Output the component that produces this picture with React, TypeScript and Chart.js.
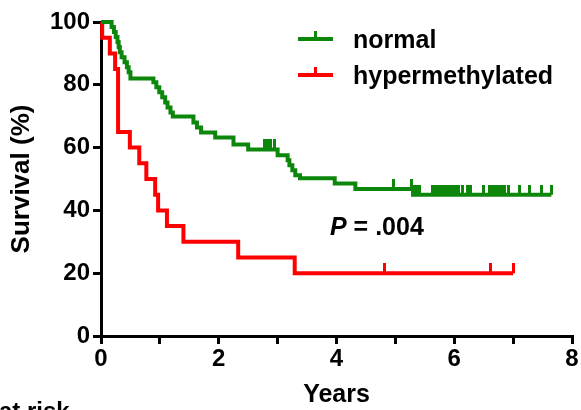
import React, { useEffect, useRef } from 'react';
import { Chart, registerables } from 'chart.js';
Chart.register(...registerables);

// ---- data ----
const xTickValues = [0, 1, 2, 3, 4, 5, 6, 7, 8];
const xTickLabels = ['0', '', '2', '', '4', '', '6', '', '8'];
const yTickValues = [0, 20, 40, 60, 80, 100];

const seriesLabels = ['normal', 'hypermethylated'];
const seriesColors = ['#0c870c', '#ff0000'];

const normalTimes = [0, 0.18, 0.22, 0.25, 0.28, 0.30, 0.32, 0.35, 0.40, 0.44, 0.47, 0.50, 0.89, 0.94, 0.99, 1.04, 1.09, 1.13, 1.18, 1.22, 1.57, 1.63, 1.70, 1.94, 2.25, 2.50, 3.00, 3.17, 3.20, 3.25, 3.30, 3.38, 3.97, 4.32, 5.30, 7.65];
const normalSurv = [100, 98.4, 96.8, 95.2, 93.6, 92.0, 90.4, 88.8, 87.2, 85.6, 84.0, 82.0, 80.8, 79.2, 77.6, 76.0, 74.4, 72.8, 71.2, 69.9, 68.0, 66.4, 64.8, 63.2, 61.0, 59.4, 57.6, 56.0, 54.4, 52.8, 51.2, 50.2, 48.6, 46.8, 45.0, 45.0];
const normalCensor = [2.78, 2.83, 2.88, 2.94, 4.97, 5.28, 5.33, 5.37, 5.41, 5.63, 5.67, 5.72, 5.77, 5.82, 5.87, 5.92, 5.97, 6.02, 6.08, 6.14, 6.22, 6.28, 6.49, 6.60, 6.65, 6.70, 6.75, 6.80, 6.86, 6.92, 7.11, 7.28, 7.48, 7.65];

const hyperTimes = [0, 0.02, 0.15, 0.24, 0.29, 0.49, 0.65, 0.77, 0.92, 0.97, 1.12, 1.40, 2.33, 3.29, 7.0];
const hyperSurv = [100, 95, 90, 85, 65, 60, 55, 50, 45, 40, 35, 30, 25, 20, 20];
const hyperCensor = [4.82, 6.62, 7.0];

const yTitle = 'Survival (%)';
const xTitle = 'Years';
const pLabel = 'P';
const pValue = ' = .004';
const atRisk = 'at risk';

const FONT = "'Liberation Sans', Arial, Helvetica, sans-serif";

function stepValue(times: number[], surv: number[], t: number) {
  let v = surv[0];
  for (let i = 0; i < times.length; i++) {
    if (times[i] <= t) v = surv[i];
  }
  return v;
}

function censorMark(color: string) {
  const c = document.createElement('canvas');
  c.width = 3;
  c.height = 20;
  const ctx = c.getContext('2d')!;
  ctx.fillStyle = color;
  ctx.fillRect(0, 0, 3, 10);
  return c;
}

const overlayPlugin = {
  id: 'overlay',
  afterDraw(chart: any) {
    const ctx = chart.ctx;
    ctx.save();
    // legend
    const lx0 = 298, lx1 = 333;
    const rows = [39, 75];
    rows.forEach((y, i) => {
      ctx.strokeStyle = seriesColors[i];
      ctx.fillStyle = seriesColors[i];
      ctx.lineWidth = 4;
      ctx.beginPath();
      ctx.moveTo(lx0, y);
      ctx.lineTo(lx1, y);
      ctx.stroke();
      ctx.fillRect(314, y - 8, 3, 8);
      ctx.fillStyle = '#000';
      ctx.font = `bold 25px ${FONT}`;
      ctx.textBaseline = 'alphabetic';
      ctx.textAlign = 'left';
      ctx.fillText(seriesLabels[i], 353, y + 9);
    });
    // P value
    ctx.fillStyle = '#000';
    ctx.font = `italic bold 25px ${FONT}`;
    ctx.fillText(pLabel, 330, 235);
    const w = ctx.measureText(pLabel).width;
    ctx.font = `bold 25px ${FONT}`;
    ctx.fillText(pValue, 330 + w, 235);
    // at risk (cut off at bottom)
    ctx.font = `bold 24px ${FONT}`;
    ctx.fillText(atRisk, -1, 419);
    ctx.restore();
  },
};

export default function App() {
  const ref = useRef<HTMLCanvasElement>(null);
  useEffect(() => {
    const normalLine = normalTimes.map((t, i) => ({ x: t, y: normalSurv[i] }));
    const hyperLine = hyperTimes.map((t, i) => ({ x: t, y: hyperSurv[i] }));
    const normalMarks = normalCensor.map((t) => ({ x: t, y: stepValue(normalTimes, normalSurv, t) }));
    const hyperMarks = hyperCensor.map((t) => ({ x: t, y: stepValue(hyperTimes, hyperSurv, t) }));
    const chart = new Chart(ref.current!, {
      type: 'line',
      data: {
        datasets: [
          { label: seriesLabels[0], data: normalLine, borderColor: seriesColors[0], borderWidth: 4, stepped: true, pointRadius: 0, fill: false, clip: false } as any,
          { label: seriesLabels[1], data: hyperLine, borderColor: seriesColors[1], borderWidth: 4, stepped: true, pointRadius: 0, fill: false, clip: false } as any,
          { label: 'nc', data: normalMarks, showLine: false, pointStyle: censorMark(seriesColors[0]), pointRadius: 5, clip: false } as any,
          { label: 'hc', data: hyperMarks, showLine: false, pointStyle: censorMark(seriesColors[1]), pointRadius: 5, clip: false } as any,
        ],
      },
      options: {
        animation: false,
        responsive: true,
        maintainAspectRatio: false,
        layout: { padding: { left: 0, top: 22, right: 9, bottom: 0 } },
        plugins: { legend: { display: false }, tooltip: { enabled: false } },
        scales: {
          x: {
            type: 'linear',
            min: 0,
            max: 8,
            afterFit: (s: any) => { s.height = 74; },
            afterBuildTicks: (s: any) => { s.ticks = xTickValues.map((v) => ({ value: v })); },
            ticks: {
              color: '#000',
              font: { family: FONT, size: 24, weight: 'bold' },
              padding: 1,
              maxRotation: 0,
              autoSkip: false,
              callback: (v: any) => xTickLabels[xTickValues.indexOf(Number(v))] ?? '',
            },
            grid: { drawOnChartArea: false, drawTicks: true, tickLength: 8, color: '#000', lineWidth: 3 },
            border: { display: true, color: '#000', width: 3 },
            title: { display: true, text: xTitle, color: '#000', font: { family: FONT, size: 25, weight: 'bold' }, padding: { top: 0, bottom: 0 } },
          },
          y: {
            type: 'linear',
            min: 0,
            max: 100,
            afterFit: (s: any) => { s.width = 101; },
            afterBuildTicks: (s: any) => { s.ticks = yTickValues.map((v) => ({ value: v })); },
            ticks: { color: '#000', font: { family: FONT, size: 24, weight: 'bold' }, padding: 3 },
            grid: { drawOnChartArea: false, drawTicks: true, tickLength: 8, color: '#000', lineWidth: 3 },
            border: { display: true, color: '#000', width: 3 },
            title: { display: true, text: yTitle, color: '#000', font: { family: FONT, size: 26, weight: 'bold' }, padding: { top: 6, bottom: 0 } },
          },
        },
      } as any,
      plugins: [overlayPlugin],
    });
    return () => chart.destroy();
  }, []);
  return (
    <div style={{ position: 'absolute', left: 0, top: 0, width: 581, height: 410, background: '#fff' }}>
      <canvas ref={ref} />
    </div>
  );
}
